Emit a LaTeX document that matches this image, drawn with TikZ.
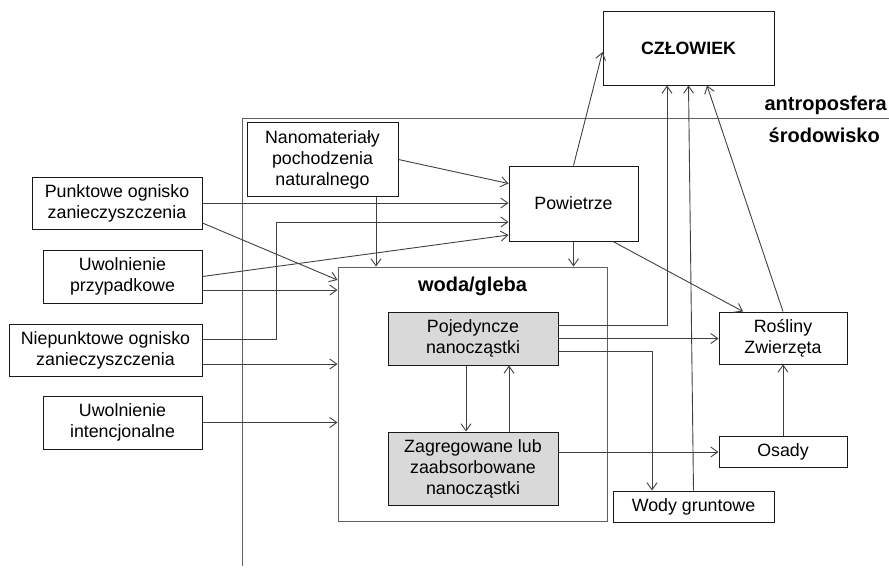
\documentclass[tikz,border=0pt]{standalone}
\usepackage{fontspec}
\setmainfont{Liberation Sans}
\usetikzlibrary{positioning, arrows.meta}
\definecolor{linegray}{HTML}{404040}
\definecolor{framegray}{HTML}{606060}
\definecolor{nanogray}{HTML}{D9D9D9}
\newcommand{\txtsize}{\fontsize{17.8}{21}\selectfont}
\newcommand{\lblsize}{\fontsize{20}{24}\selectfont\bfseries}

\begin{document}
\begin{tikzpicture}[x=1pt, y=-1pt,
  box/.style={draw=black!90, line width=1pt, inner sep=0pt, align=center,
    font=\txtsize},
  nanobox/.style={box, fill=nanogray},
  arr/.style={draw=linegray, line width=0.9pt,
    -{Straight Barb[length=7pt, width=10pt]}},
  sphere/.style={draw=framegray, line width=1pt},
  lbl/.style={font=\lblsize, inner sep=0pt}]
      \useasboundingbox (0,0) rectangle (889,568);%

      % Spheres
      \coordinate (S) at (242,118);%
      \draw [sphere] (242,566) -- (S) -- (889,118);%
      \node [lbl, anchor=base east] (antro) at (887,110) {antroposfera};%
      \node [lbl, anchor=base east] (srod) at (880,142) {środowisko};%

      % Human
      \node [box, minimum width=171pt, minimum height=74pt,
      font=\fontsize{17.8}{21}\selectfont\bfseries] (czl) at (688.5,48)
      {CZŁOWIEK};%

      % Sources
      \node [box, minimum width=151pt, minimum height=74pt] (nano) at
      (322.5,159.5) {Nanomateriały\\pochodzenia\\naturalnego};%
      \node [box, minimum width=170pt, minimum height=52pt] (punkt) at
      (117,203) {Punktowe ognisko\\zanieczyszczenia};%
      \node [box, minimum width=159pt, minimum height=53pt,
      below=20pt of punkt.south east, anchor=north east] (przyp)
      {Uwolnienie\\przypadkowe};%
      \node [box, minimum width=193pt, minimum height=52pt,
      below=20pt of przyp.south east, anchor=north east] (niep)
      {Niepunktowe ognisko\\zanieczyszczenia};%
      \node [box, minimum width=159pt, minimum height=53pt,
      below=19pt of niep.south east, anchor=north east] (inten)
      {Uwolnienie\\intencjonalne};%

      % Compartments
      % -- air
      \node [box, minimum width=129pt, minimum height=75pt] (pow) at
      (573.5,203.5) {Powietrze};%
      % -- water/soil
      \node [box, draw=framegray, minimum width=269pt, minimum height=254pt]
      (woda) at (472.5,394) {};%
      \node [lbl, anchor=base] (wodalbl) at ([yshift=-25pt]woda.north)
      {woda/gleba};%
      \node [nanobox, minimum width=170pt, minimum height=53pt] (poj) at
      (473,338.5) {Pojedyncze\\nanocząstki};%
      \node [nanobox, minimum width=170pt, minimum height=73pt,
      below=66pt of poj] (zag) {Zagregowane lub\\zaabsorbowane\\nanocząstki};%
      % -- others
      \node [box, minimum width=128pt, minimum height=52pt] (ros) at
      (783,338) {Rośliny\\Zwierzęta};%
      \node [box, minimum width=128pt, minimum height=31pt, below=71pt of
      ros] (osady) {Osady};%
      \node [box, minimum width=161pt, minimum height=31pt] (wody) at
      (693.5,506.5) {Wody gruntowe};%

      % arrows
      \draw [arr] (nano.east) -- ([yshift=20pt]pow.west);%
      \draw [arr] ([xshift=53.5pt]nano.south) -- ([xshift=53.5pt]nano.south
      |- woda.north);%
      \draw [arr] (punkt.east) -- (punkt.east -| pow.west);%
      \draw [arr] ([yshift=-20pt]punkt.east) -- ([yshift=114pt]woda.west);%
      \draw [arr] (przyp.east) -- ([yshift=-31.5pt]pow.west);%
      \draw [arr] ([yshift=-13.5pt]przyp.east) -- ([yshift=-13.5pt]przyp.east
      -| woda.west);%
      \draw [arr] ([yshift=11pt]niep.east) -- ++(74pt,0) |-
      ([yshift=-18.5pt]pow.west);%
      \draw [arr] ([yshift=-14pt]niep.east) -- ([yshift=-14pt]niep.east -|
      woda.west);%
      \draw [arr] (inten.east) -- (inten.east -| woda.west);%

      \draw [arr] (pow.north) -- ([yshift=-4pt]czl.west);%
      \draw [arr] (pow.south) -- (pow.south |- woda.north);%
      \draw [arr] ([xshift=39.5pt]pow.south) -- ([xshift=-40pt]ros.north);%

      \draw [arr] ([yshift=13.5pt]poj.east) -| ([xshift=-21.5pt]czl.south);%
      \draw [arr] (poj.east) -- (poj.east -| ros.west);%
      \draw [arr] ([yshift=-12.5pt]poj.east) -| ([xshift=-41.5pt]wody.north);%
      \draw [arr] ([xshift=-7pt]poj.south) -- ([xshift=-7pt]zag.north);%
      \draw [arr] ([xshift=36pt]zag.north) -- ([xshift=36pt]poj.south);%
      \draw [arr] ([yshift=16.5pt]zag.east) -- ([yshift=16.5pt]zag.east -|
      osady.west);%

      \draw [arr] (osady.north) -- (ros.south);%
      \draw [arr] (ros.north) -- ([xshift=18.5pt]czl.south);%
      \draw [arr] (wody.north) -- (czl.south);%
    \end{tikzpicture}
\end{document}
